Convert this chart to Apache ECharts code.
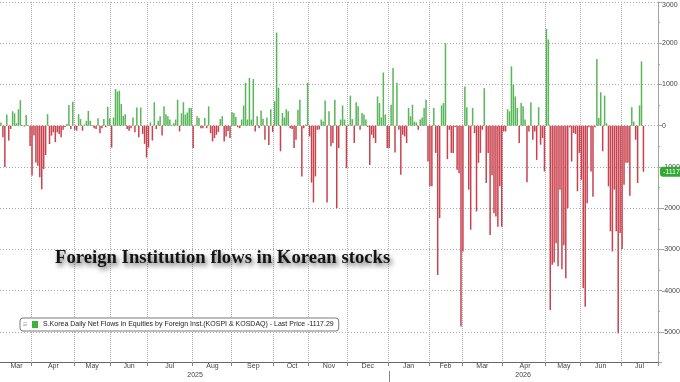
<!DOCTYPE html>
<html style="height: 100%; width:100%">
<head>
    <meta charset="utf-8">
    <script type="text/javascript" src="https://cdn.jsdelivr.net/npm/echarts@6/dist/echarts.min.js"></script>
</head>
<body style="height: 100%; width: 100%; margin: 0; background: #ffffff;">
<div id="container" style="width: 680px; height: 382px;"></div>
<script type="text/javascript">
// daily net flows, one array per month (KRW bn)
var mar25 = [80, -280, -1000, 270, -360, -80, 350, 300, 60, 400, 620, 20, -20, 260, 20, -490];
var apr25 = [-1210, -240, -890, -970, -1250, -1540, -1050, -710, 280, -445, -240, -160, -400, -160, -200, -280, -100, -30, 40, 500, -80, 580];
var may25 = [-100, -120, 280, 160, -120, 30, 120, 360, 120, 20, -60, -80, 180, -180, -60, 160, -40, 460, 180];
var jun25 = [-530, 200, 890, 830, 850, 530, 240, 280, -80, -120, -60, 200, -160, 440, -280, 440, -200, -440, -770];
var jul25 = [-530, 80, -360, 570, -80, 120, 230, -240, 470, 280, 230, 150, 20, 60, 150, 630, -140, 300, 570, 270, 320, 430, 430];
var aug25 = [-540, 20, 230, 190, -60, -60, 190, -60, 470, -180, -380, -300, -220, -150, 160, 230, -380, -260, -130, -300];
var sep25 = [330, 310, 210, -40, -60, 150, 490, 1040, 150, 1160, 150, 1130, -140, 230, -60, 370, 170, -340, 200, -470, 400, -150];
var oct25 = [590, 2260, 920, -620, 310, 200, 400, 350, -60, -80, -540, -340, 390, 630, -1230, -60, 30, 1040];
var nov25 = [-260, -1380, -1860, -1230, -100, -90, 150, 100, 610, -1860, 350, -500, -420, 630, -2000, -540, 150, 490, 150, -1030];
var dec25 = [30, 730, 160, -420, 570, 470, -100, 310, 270, 150, -30, -950, -220, -300, -420, 710, 550, 200, 1290, 270, -540];
var jan26 = [-540, 510, 1400, -650, 1040, -100, -1190, -220, -260, -420, 430, 230, 510, 100, 80, -100, 150, 200, 430, 630, -870];
var feb26 = [-1470, -1470, 430, -660, -3620, -2240, 490, 550, 2000, -810, -100, -660, -660, -30, -1070, -1150, -4870];
var mar26 = [-3050, 950, 450, -1550, -2520, 430, -180, -2080, -900, -660, -100, 910, -1390, -660, -2650, -1200, -2120, -2200, -2450, -1470, -2450];
var apr26 = [-140, -140, 400, 350, 1440, 1000, 710, 430, -420, 550, 470, 150, -1370, -140, 570, -340, -140, -830, 450, -460, -300, -1110];
var may26 = [2350, 2090, -4470, -3370, -3320, -2850, -3410, -1550, -3480, -2900, -3700, -2000, -40, -870, -180, -200, -1590, -660];
var jun26 = [-1310, -3940, -4390, -1880, -40, -1110, -1720, -40, 1620, 190, 810, -620, 730, 60, -1470, -2560, -3050, -1550, -2560, -5030, -2600];
var jul26 = [-2990, -1430, -900, -900, -1700, 450, 100, -340, -1390, 490, 1560, -1117.29];

var monthNames = ["Mar", "Apr", "May", "Jun", "Jul", "Aug", "Sep", "Oct", "Nov", "Dec", "Jan", "Feb", "Mar", "Apr", "May", "Jun", "Jul"];
var monthYears = ["2025", "2025", "2025", "2025", "2025", "2025", "2025", "2025", "2025", "2025", "2026", "2026", "2026", "2026", "2026", "2026", "2026"];
var monthData = [mar25, apr25, may25, jun25, jul25, aug25, sep25, oct25, nov25, dec25, jan26, feb26, mar26, apr26, may26, jun26, jul26];
var yTicks = [3000, 2000, 1000, 0, -1000, -2000, -3000, -4000, -5000];

var seriesName = "S.Korea Daily Net Flows in Equities by Foreign Inst.(KOSPI & KOSDAQ)";
var titleText = "Foreign Institution flows in Korean stocks";
var lastPrice = jul26[jul26.length - 1];

var emptyTail = 7;   // blank days at the right end of the axis
var upColor = "#5ab65a";
var downColor = "#c9434f";
var gridColor = "#adadad";
var font = "'Liberation Sans', Arial, sans-serif";

// build category axis + month / year markers
var cats = [], vals = [];
var monthStart = {}, monthMid = {}, yearMid = {}, yearStart = {};
var yearRange = {};
for (var m = 0; m < monthData.length; m++) {
    var d = monthData[m];
    var n = d.length + (m === monthData.length - 1 ? emptyTail : 0);
    var start = cats.length;
    for (var k = 0; k < n; k++) {
        cats.push(monthNames[m] + " " + monthYears[m] + " " + (k + 1));
        vals.push(k < d.length ? d[k] : null);
    }
    if (m > 0) monthStart[start] = true;
    monthMid[start + Math.floor(n / 2)] = monthNames[m];
    var yr = monthYears[m];
    if (!yearRange[yr]) yearRange[yr] = [start, start + n - 1];
    yearRange[yr][1] = start + n - 1;
}
for (var yk in yearRange) {
    var r = yearRange[yk];
    yearMid[Math.floor((r[0] + r[1] + 1) / 2)] = yk;
    if (r[0] > 0) yearStart[r[0]] = true;
}

// one shared function so ticks and grid lines use the same positions
function isMonthStart(i) { return !!monthStart[i]; }

var dom = document.getElementById("container");
var myChart = echarts.init(dom, null, {renderer: "canvas"});

var option = {
    animation: false,
    backgroundColor: "#ffffff",
    color: [upColor],
    grid: {
        left: 0,
        right: 22,
        top: 2,
        bottom: 20,
        outerBoundsMode: "none"
    },
    legend: {
        left: 20,
        top: 318,
        padding: [3, 5, 3, 12],
        borderColor: "#7a7a7a",
        borderWidth: 1,
        borderRadius: 3,
        backgroundColor: "#ffffff",
        itemWidth: 6,
        itemHeight: 7,
        itemGap: 4,
        data: [{name: seriesName, icon: "rect", itemStyle: {color: "#3cb43c"}}],
        formatter: function (name) {
            return name + " - Last Price " + lastPrice.toFixed(2);
        },
        textStyle: {fontSize: 7, color: "#222", fontFamily: font}
    },
    graphic: [
        {
            type: "text",
            left: 23,
            top: 321,
            z: 100,
            style: {text: "\u2261", fill: "#999", fontSize: 8, fontFamily: font}
        },
        {
            type: "text",
            x: 55,
            y: 258,
            z: 100,
            style: {
                text: titleText,
                fill: "#141414",
                font: "bold 18.7px 'Liberation Serif', 'DejaVu Serif', serif",
                verticalAlign: "middle",
                textShadowColor: "rgba(0,0,0,0.6)",
                textShadowBlur: 5,
                textShadowOffsetX: 2,
                textShadowOffsetY: 3
            }
        }
    ],
    xAxis: [
        {
            type: "category",
            data: cats,
            position: "bottom",
            axisLine: {onZero: false, lineStyle: {color: "#666", width: 1}},
            axisTick: {
                show: true,
                length: 4,
                interval: isMonthStart,
                lineStyle: {color: "#888"}
            },
            splitLine: {
                show: true,
                interval: isMonthStart,
                lineStyle: {color: gridColor, type: "dotted", width: 1}
            },
            axisLabel: {
                interval: function (i) { return monthMid[i] !== undefined; },
                formatter: function (v, i) { return monthMid[i] || ""; },
                margin: 1,
                fontSize: 7,
                color: "#444",
                fontFamily: font
            }
        },
        {
            type: "category",
            data: cats,
            position: "bottom",
            offset: 9,
            axisLine: {show: false, onZero: false},
            axisTick: {
                show: true,
                alignWithLabel: true,
                length: 16,
                interval: function (i) { return !!yearStart[i]; },
                lineStyle: {color: "#888"}
            },
            splitLine: {show: false},
            axisLabel: {
                interval: function (i) { return yearMid[i] !== undefined; },
                formatter: function (v, i) { return yearMid[i] || ""; },
                margin: 1,
                fontSize: 7,
                color: "#444",
                fontFamily: font
            }
        }
    ],
    yAxis: {
        type: "value",
        position: "right",
        min: -5730,
        max: yTicks[0],
        splitNumber: 9,
        minInterval: 1000,
        maxInterval: 1000,
        axisLine: {show: true, lineStyle: {color: "#97ad97", width: 1}},
        axisTick: {show: true, length: 4, lineStyle: {color: "#97ad97"}},
        minorTick: {show: true, splitNumber: 2, length: 2, lineStyle: {color: "#97ad97"}},
        splitLine: {show: true, lineStyle: {color: gridColor, type: [1, 2], width: 1}},
        axisLabel: {
            margin: 4,
            fontSize: 7,
            color: "#444",
            fontFamily: font,
            verticalAlignMaxLabel: "top",
            formatter: function (v) {
                return yTicks.indexOf(v) >= 0 ? String(v) : "";
            }
        }
    },
    series: [{
        name: seriesName,
        type: "bar",
        data: vals,
        barCategoryGap: "22%",
        itemStyle: {
            color: function (p) { return p.value >= 0 ? upColor : downColor; }
        },
        markLine: {
            silent: true,
            symbol: ["none", "none"],
            data: [{yAxis: lastPrice}],
            lineStyle: {width: 0, color: "rgba(0,0,0,0)"},
            label: {
                show: true,
                position: "end",
                distance: 2,
                formatter: function () { return lastPrice.toFixed(2); },
                color: "#ffffff",
                backgroundColor: "#34a834",
                borderRadius: 3,
                padding: [2, 3, 1, 3],
                fontSize: 7,
                fontFamily: font
            }
        }
    }]
};

myChart.setOption(option, true);
</script>
</body>
</html>
